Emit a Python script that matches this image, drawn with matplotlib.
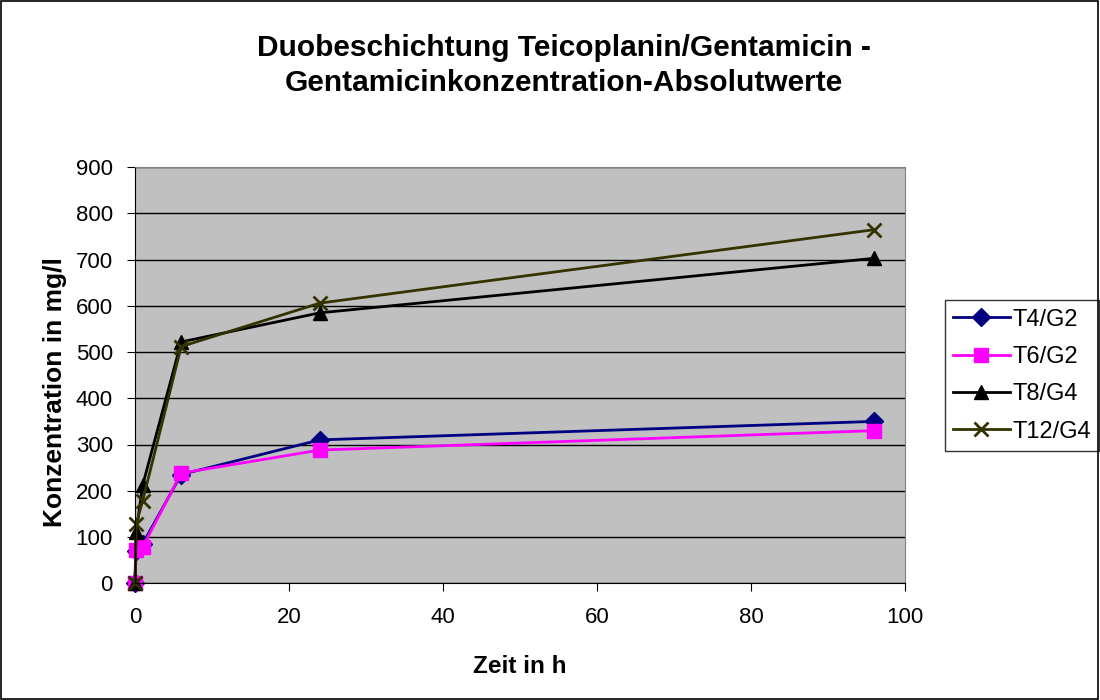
import matplotlib
matplotlib.use("Agg")
import matplotlib.pyplot as plt
from matplotlib.patches import Rectangle

plt.rcParams['font.family'] = ['Liberation Sans', 'DejaVu Sans']

# Messzeitpunkte (h) und Gentamicin-Konzentrationen (mg/l)
zeit = [0, 0.15, 1, 6, 24, 96]
t4_g2 = [0, 70, 85, 235, 310, 350]
t6_g2 = [0, 72, 78, 238, 288, 330]
t8_g4 = [0, 110, 212, 522, 585, 703]
t12_g4 = [0, 128, 178, 512, 606, 765]

serien = [
    ("T4/G2", t4_g2, "#000080", "D", 9),
    ("T6/G2", t6_g2, "#FF00FF", "s", 10),
    ("T8/G4", t8_g4, "#000000", "^", 10),
    ("T12/G4", t12_g4, "#333300", "x", 10),
]

fig = plt.figure(figsize=(11, 7), dpi=100)
fig.patch.set_facecolor("white")
fig.add_artist(Rectangle((0.001, 0.001), 0.997, 0.997, transform=fig.transFigure,
                         fill=False, edgecolor="black", linewidth=1.2))

ax = fig.add_axes([0.1227, 0.167, 0.700, 0.594])
ax.set_facecolor("#C0C0C0")

for name, werte, farbe, marker, ms in serien:
    ax.plot(zeit, werte, color=farbe, linewidth=2, marker=marker, markersize=ms,
            markeredgewidth=2 if marker == "x" else 1, label=name, clip_on=False)

ax.set_xlim(0, 100)
ax.set_ylim(0, 900)
ax.set_xticks(range(0, 101, 20))
ax.set_yticks(range(0, 901, 100))
ax.yaxis.grid(True, color="black", linewidth=1)
ax.set_axisbelow(True)
ax.tick_params(labelsize=16, length=6, color="black")
ax.tick_params(axis="y", pad=10)
ax.tick_params(axis="x", pad=11)
for s in ax.spines.values():
    s.set_color("#808080")
ax.spines["left"].set_color("black")
ax.spines["bottom"].set_color("black")

ax.set_xlabel("Zeit in h", fontsize=17.5, fontweight="bold", labelpad=20)
ax.set_ylabel("Konzentration in mg/l", fontsize=19, fontweight="bold")
ax.yaxis.set_label_coords(-0.088, 0.46)

fig.text(0.513, 0.906, "Duobeschichtung Teicoplanin/Gentamicin -\nGentamicinkonzentration-Absolutwerte",
         ha="center", va="center", fontsize=21.5, fontweight="bold", linespacing=1.3)

leg = ax.legend(loc="upper left", bbox_to_anchor=(0.859, 0.571), bbox_transform=fig.transFigure,
                fontsize=17, frameon=True, fancybox=False, edgecolor="black", borderpad=0.35,
                borderaxespad=0, labelspacing=0.65, handlelength=2.4, handletextpad=0.1)
leg.get_frame().set_linewidth(1)

fig.savefig("out.png", dpi=100)
